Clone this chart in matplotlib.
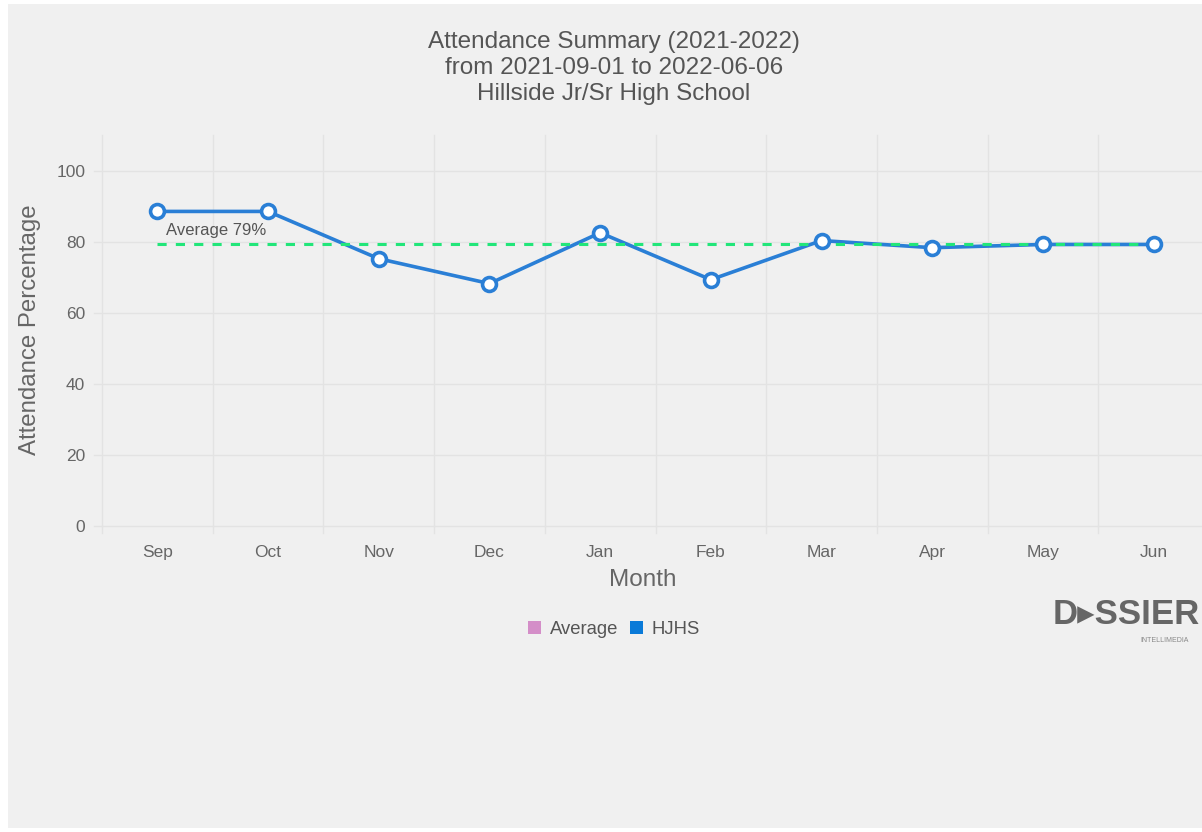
import matplotlib
matplotlib.use("Agg")
import matplotlib.pyplot as plt
from matplotlib.patches import Rectangle, Patch

months = ["Sep", "Oct", "Nov", "Dec", "Jan", "Feb", "Mar", "Apr", "May", "Jun"]
hjhs = [88.5, 88.5, 75.2, 68.2, 82.5, 69.3, 80.3, 78.3, 79.2, 79.2]
average_value = 79.3
average_label = "Average 79%"
yticks = [0, 20, 40, 60, 80, 100]
title = "Attendance Summary (2021-2022)\nfrom 2021-09-01 to 2022-06-06\nHillside Jr/Sr High School"
legend_labels = ["Average", "HJHS"]

plt.rcParams['font.family'] = ['Liberation Sans', 'DejaVu Sans']

W, H = 1202, 832
fig = plt.figure(figsize=(W / 100, H / 100), dpi=100, facecolor="white")
bg = "#f0f0f0"
fig.patches.append(Rectangle((8 / W, 4 / H), 1 - 8 / W, 1 - 8 / H, transform=fig.transFigure,
                             facecolor=bg, edgecolor="none", zorder=-10))

left = 102 / W
right = 1209 / W
bottom = 1 - 526 / H
top = 1 - 135 / H
ax = fig.add_axes([left, bottom, right - left, top - bottom])
ax.set_facecolor(bg)
ax.set_zorder(1)

x = list(range(len(months)))
ax.set_xlim(-0.5, len(months) - 0.5)
ax.set_ylim(0, 110)

# grid
grid_c = "#e3e3e3"
for b in [i - 0.5 for i in range(len(months) + 1)]:
    ax.plot([b, b], [0, 110], color=grid_c, lw=1, zorder=1, clip_on=False)
    ax.plot([b, b], [0, -2.0], color=grid_c, lw=1, zorder=1, clip_on=False)
for yv in yticks:
    ax.plot([-0.57, len(months) - 0.5], [yv, yv], color=grid_c, lw=1, zorder=1, clip_on=False)

ax.plot(x, hjhs, color="#2a7fd6", lw=2.6, zorder=4)
ax.plot([x[0], x[-1]], [average_value, average_value], color="#22e67a", lw=2.2,
        ls=(0, (3, 3)), zorder=5)
ax.text(x[0] + 0.08, average_value + 2.6, average_label, fontsize=12, color="#555555", zorder=4)

ax.plot(x, hjhs, ls="none", marker="o", markersize=10,
        markerfacecolor="white", markeredgecolor="#2a7fd6", markeredgewidth=2.6, zorder=6)

for s in ax.spines.values():
    s.set_visible(False)
ax.set_xticks(x)
ax.set_xticklabels(months, fontsize=12.5, color="#666666")
ax.set_yticks(yticks)
ax.set_yticklabels([str(v) for v in yticks], fontsize=12.5, color="#666666")
ax.tick_params(axis="both", length=0)
ax.tick_params(axis="x", pad=14)
ax.tick_params(axis="y", pad=12)

fig.text(643 / W, 1 - 580 / H, "Month", fontsize=17.5, color="#666666", ha="center", va="center")
fig.text(30 / W, 1 - 330 / H, "Attendance Percentage", fontsize=17.3, color="#666666",
         ha="center", va="center", rotation=90)

fig.text(614 / W, 1 - 68 / H, title, fontsize=17.5, color="#555555", ha="center", va="center",
         linespacing=1.25)

handles = [Patch(facecolor="#d48ec8", edgecolor="none"), Patch(facecolor="#0a7ad8", edgecolor="none")]
fig.legend(handles, legend_labels, loc="center", bbox_to_anchor=(614 / W, 1 - 629 / H), ncol=2,
           frameon=False, fontsize=13.3, labelcolor="#555555", handlelength=0.7, handleheight=0.7,
           handletextpad=0.5, columnspacing=0.6)

fig.text(1200 / W, 1 - 615 / H, "D\u25B8SSIER", fontsize=25, color="#666666", ha="right",
         va="center", fontweight="bold")
fig.text(1165 / W, 1 - 640 / H, "INTELLIMEDIA", fontsize=5, color="#888888", ha="center", va="center")

fig.savefig("out.png", dpi=100, facecolor="white")
